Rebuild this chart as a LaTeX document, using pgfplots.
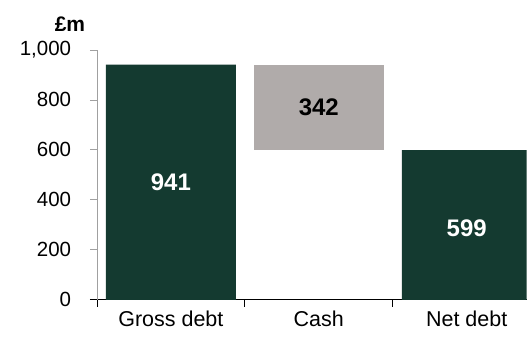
\documentclass[border=0pt]{standalone}
\usepackage{fontspec}
\setmainfont{Liberation Sans}
\usepackage{pgfplots}
\pgfplotsset{compat=1.18}
\definecolor{dgreen}{RGB}{20,58,48}
\definecolor{cgrey}{RGB}{176,171,170}
\definecolor{axgrey}{RGB}{160,160,160}
\begin{document}
\fontsize{20}{24}\selectfont
\begin{tikzpicture}
\begin{axis}[
  at={(0,0)}, anchor=south west,
  width=430pt, height=250pt, scale only axis,
  xmin=-0.5, xmax=2.405, ymin=0, ymax=1000,
  clip=true,
  ybar stacked, bar width=0.878,
  axis x line*=bottom, axis y line*=left,
  x axis line style={black, line width=0.8pt, shorten <=-7pt},
  y axis line style={axgrey, line width=0.8pt},
  ytick={0,200,...,1000},
  /pgf/number format/.cd, 1000 sep={,}, assume math mode=true, /pgfplots/.cd,
  tick align=outside,
  major tick length=7pt,
  ytick style={axgrey, line width=0.8pt},
  xtick={-0.5,0.5,1.5},
  xticklabels={},
  xtick style={black, line width=0.8pt},
  extra x ticks={0,1,2},
  extra x tick labels={Gross debt, Cash, Net debt},
  extra x tick style={major tick length=0pt, xticklabel style={font=\fontsize{21.5}{24}\selectfont, yshift=-4pt}},
  yticklabel style={font=\fontsize{20.5}{24}\selectfont, xshift=-12pt},
]
\addplot[draw=none, fill=none] coordinates {(0,0) (1,599) (2,0)};
\addplot[draw=none, fill=dgreen] coordinates {(0,941) (1,0) (2,599)};
\addplot[draw=none, fill=cgrey] coordinates {(0,0) (1,342) (2,0)};
\coordinate (l1) at (axis cs:0,470);
\coordinate (l2) at (axis cs:1,770);
\coordinate (l3) at (axis cs:2,287);
\coordinate (tl) at (rel axis cs:0,1);
\end{axis}
\node[text=white, font=\fontsize{24}{26}\selectfont\bfseries] at (l1) {941};
\node[text=black, font=\fontsize{24}{26}\selectfont\bfseries] at (l2) {342};
\node[text=white, font=\fontsize{24}{26}\selectfont\bfseries] at (l3) {599};
\node[font=\fontsize{21}{24}\selectfont\bfseries] at (tl) [xshift=-27pt, yshift=26pt] {£m};
\path[use as bounding box] (-97pt,-37pt) rectangle (430pt,300pt);
\end{tikzpicture}
\end{document}
